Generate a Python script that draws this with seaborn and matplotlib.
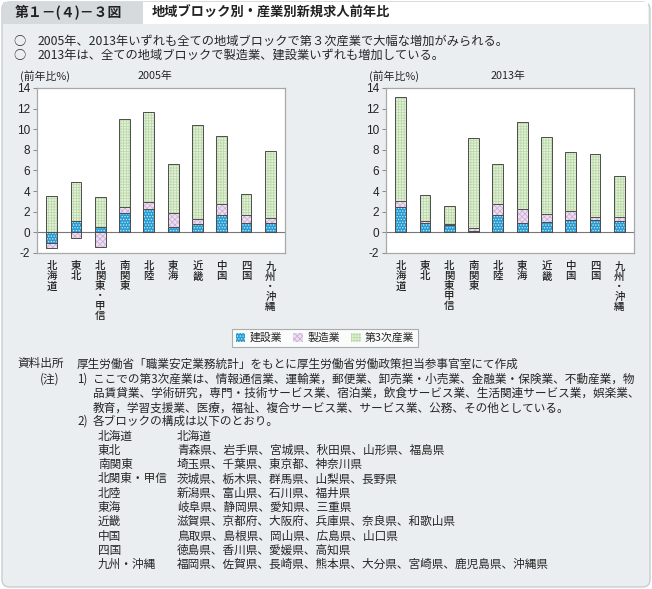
import numpy as np
import pandas as pd
import matplotlib
matplotlib.use("Agg")
import matplotlib.pyplot as plt
import seaborn as sns
from matplotlib.patches import Patch, FancyBboxPatch, Rectangle

# ---------------- data ----------------
regions_2005 = ["北海道", "東北", "北関東・甲信", "南関東", "北陸", "東海", "近畿", "中国", "四国", "九州・沖縄"]
regions_2013 = ["北海道", "東北", "北関東甲信", "南関東", "北陸", "東海", "近畿", "中国", "四国", "九州・沖縄"]
construction_2005 = [-1.05, 1.07, 0.49, 1.91, 2.24, 0.49, 0.81, 1.69, 0.87, 0.87]
manufacturing_2005 = [-0.50, -0.50, -1.46, 0.59, 0.68, 1.36, 0.45, 1.06, 0.78, 0.49]
tertiary_2005 = [3.55, 3.79, 2.91, 8.49, 8.75, 4.76, 9.14, 6.61, 2.08, 6.51]
construction_2013 = [2.43, 0.87, 0.71, 0.10, 1.72, 0.87, 1.00, 1.17, 1.17, 1.07]
manufacturing_2013 = [0.62, 0.20, 0.07, 0.29, 1.00, 1.37, 0.75, 0.90, 0.32, 0.42]
tertiary_2013 = [10.07, 2.53, 1.75, 8.75, 3.92, 8.45, 7.49, 5.71, 6.13, 4.02]
series_names = ["建設業", "製造業", "第3次産業"]
yticks = [-2, 0, 2, 4, 6, 8, 10, 12, 14]

# ---------------- style ----------------
W, H = 652, 589
BG = "#ebeef0"
JP = ["Noto Sans CJK JP", "DejaVu Sans"]
NUM = ["Liberation Sans", "Noto Sans CJK JP", "DejaVu Sans"]
sns.set_theme(style="white")
plt.rcParams["font.family"] = JP
plt.rcParams["hatch.linewidth"] = 0.6

styles = {
    "建設業": dict(face="#2a9bd1", hatch="......", hcol="#c8ecf8"),
    "製造業": dict(face="#ecdff0", hatch="xxxxxx", hcol="#cdb0d8"),
    "第3次産業": dict(face="#e4f2db", hatch="++++++", hcol="#bcdaa9"),
}
EDGE = "#4d4d4d"

fig = plt.figure(figsize=(W / 100, H / 100), dpi=100)
fig.patch.set_facecolor("white")


def fx(x):
    return x / W


def fy(y):
    return 1 - y / H


# panel background
fig.patches.append(FancyBboxPatch((fx(2), fy(587)), fx(648), (585) / H,
                                  boxstyle="round,pad=0,rounding_size=0.012",
                                  transform=fig.transFigure, facecolor=BG,
                                  edgecolor="#c9cdd0", linewidth=1.0, zorder=-3))
# header cells
fig.patches.append(Rectangle((fx(3), fy(24)), fx(140), 22 / H, transform=fig.transFigure,
                             facecolor="#d5dadd", edgecolor="none", zorder=-2))
fig.patches.append(Rectangle((fx(143), fy(24)), fx(505), 22 / H, transform=fig.transFigure,
                             facecolor="white", edgecolor="none", zorder=-2))

fig.text(fx(15), fy(13), "第１－(４)－３図", fontsize=10, fontweight="bold",
         va="center", ha="left", color="#222222", family=JP)
fig.text(fx(152), fy(13), "地域ブロック別・産業別新規求人前年比", fontsize=9.5,
         fontweight="bold", va="center", ha="left", color="#222222", family=JP)
fig.text(fx(13), fy(41), "○", fontsize=8.8, va="center", ha="left", family=JP)
fig.text(fx(38), fy(41), "2005年、2013年いずれも全ての地域ブロックで第３次産業で大幅な増加がみられる。",
         fontsize=8.8, va="center", ha="left", family=JP)
fig.text(fx(13), fy(55), "○", fontsize=8.8, va="center", ha="left", family=JP)
fig.text(fx(38), fy(55), "2013年は、全ての地域ブロックで製造業、建設業いずれも増加している。",
         fontsize=8.8, va="center", ha="left", family=JP)


def layers(cons, manu, tert):
    cons = np.asarray(cons, float)
    manu = np.asarray(manu, float)
    tert = np.asarray(tert, float)
    pos_c = np.clip(cons, 0, None)
    neg_c = np.clip(cons, None, 0)
    pos_m = np.clip(manu, 0, None)
    tert_top = pos_c + pos_m + tert
    manu_top = np.where(manu >= 0, pos_c + manu, neg_c + manu)
    return [("第3次産業", tert_top), ("製造業", manu_top), ("建設業", cons)]


def draw_panel(ax, regions, cons, manu, tert):
    ax.set_facecolor("white")
    ax.set_zorder(5)
    labels = ["\n".join(list(r)) for r in regions]
    for name, vals in layers(cons, manu, tert):
        st = styles[name]
        df = pd.DataFrame({"region": labels, "value": vals})
        n0 = len(ax.patches)
        sns.barplot(data=df, x="region", y="value", color=st["face"], width=0.44,
                    saturation=1, ax=ax, errorbar=None)
        for p in ax.patches[n0:]:
            p.set_edgecolor(st["hcol"])
            p.set_hatch(st["hatch"])
            p.set_linewidth(0)
        n1 = len(ax.patches)
        sns.barplot(data=df, x="region", y="value", color=st["face"], width=0.44,
                    saturation=1, ax=ax, errorbar=None)
        for p in ax.patches[n1:]:
            p.set_facecolor("none")
            p.set_edgecolor(EDGE)
            p.set_linewidth(0.7)
    ax.axhline(0, color="#777777", linewidth=0.8, zorder=0.5)
    ax.set_ylim(-2, 14)
    ax.set_xlim(-0.6, 9.6)
    ax.set_yticks(yticks)
    ax.set_yticklabels([str(v) for v in yticks], family=NUM, fontsize=8.5)
    ax.set_xticks(range(len(labels)))
    ax.set_xticklabels(labels, fontsize=7.5, va="top", linespacing=1.0, family=JP,
                       fontweight="medium")
    ax.tick_params(axis="y", which="both", left=True, length=3, width=0.6,
                   color="#777777", pad=2, labelcolor="#222222")
    ax.tick_params(axis="x", length=0, pad=6, labelcolor="#222222")
    ax.set_xlabel("")
    ax.set_ylabel("")
    for s in ax.spines.values():
        s.set_color("#a8a8a8")
        s.set_linewidth(0.9)
        s.set_visible(True)


ax1 = fig.add_axes([fx(37), fy(253), (285 - 37) / W, (253 - 88) / H])
draw_panel(ax1, regions_2005, construction_2005, manufacturing_2005, tertiary_2005)
ax2 = fig.add_axes([fx(386), fy(253), (634 - 386) / W, (253 - 88) / H])
draw_panel(ax2, regions_2013, construction_2013, manufacturing_2013, tertiary_2013)

fig.text(fx(20), fy(76), "(前年比%)", fontsize=7.8, va="center", ha="left", family=JP)
fig.text(fx(155), fy(76), "2005年", fontsize=7.8, va="center", ha="center", family=JP)
fig.text(fx(369), fy(76), "(前年比%)", fontsize=7.8, va="center", ha="left", family=JP)
fig.text(fx(508), fy(76), "2013年", fontsize=7.8, va="center", ha="center", family=JP)

# legend
handles = [Patch(facecolor=styles[n]["face"], edgecolor=styles[n]["hcol"],
                 hatch=styles[n]["hatch"], linewidth=0, label=n) for n in series_names]
leg = fig.legend(handles=handles, labels=series_names, loc="center",
                 bbox_to_anchor=(fx(325), fy(338)), ncol=3, frameon=True,
                 handlelength=0.9, handleheight=0.9,
                 handletextpad=0.4, columnspacing=1.0, borderpad=0.35,
                 fancybox=False, prop={"family": JP, "size": 7.8})
leg.get_frame().set_edgecolor("#9a9a9a")
leg.get_frame().set_linewidth(0.8)
leg.get_frame().set_facecolor("white")

# notes
NS = 8.4
fig.text(fx(17), fy(364), "資料出所", fontsize=NS, va="center", ha="left", family=JP)
fig.text(fx(77), fy(364), "厚生労働省「職業安定業務統計」をもとに厚生労働省労働政策担当参事官室にて作成",
         fontsize=NS, va="center", ha="left", family=JP)
fig.text(fx(40), fy(379), "(注)", fontsize=NS, va="center", ha="left", family=JP)
fig.text(fx(77), fy(379), "1)", fontsize=NS, va="center", ha="left", family=JP)
note1 = ["ここでの第3次産業は、情報通信業、運輸業，郵便業、卸売業・小売業、金融業・保険業、不動産業，物",
         "品賃貸業、学術研究，専門・技術サービス業、宿泊業，飲食サービス業、生活関連サービス業，娯楽業、",
         "教育，学習支援業、医療，福祉、複合サービス業、サービス業、公務、その他としている。"]
for i, t in enumerate(note1):
    fig.text(fx(93), fy(379 + 14.4 * i), t, fontsize=NS, va="center", ha="left", family=JP)
fig.text(fx(77), fy(421), "2)", fontsize=NS, va="center", ha="left", family=JP)
fig.text(fx(93), fy(421), "各ブロックの構成は以下のとおり。", fontsize=NS, va="center", ha="left", family=JP)
blocks = ["北海道", "東北", "南関東", "北関東・甲信", "北陸", "東海", "近畿", "中国", "四国", "九州・沖縄"]
prefs = ["北海道",
         "青森県、岩手県、宮城県、秋田県、山形県、福島県",
         "埼玉県、千葉県、東京都、神奈川県",
         "茨城県、栃木県、群馬県、山梨県、長野県",
         "新潟県、富山県、石川県、福井県",
         "岐阜県、静岡県、愛知県、三重県",
         "滋賀県、京都府、大阪府、兵庫県、奈良県、和歌山県",
         "鳥取県、島根県、岡山県、広島県、山口県",
         "徳島県、香川県、愛媛県、高知県",
         "福岡県、佐賀県、長崎県、熊本県、大分県、宮崎県、鹿児島県、沖縄県"]
for i, (b, p) in enumerate(zip(blocks, prefs)):
    y = 436 + 14.3 * i
    fig.text(fx(98), fy(y), b, fontsize=NS, va="center", ha="left", family=JP)
    fig.text(fx(177), fy(y), p, fontsize=NS, va="center", ha="left", family=JP)

fig.savefig("out.png", dpi=100, facecolor=fig.get_facecolor())
